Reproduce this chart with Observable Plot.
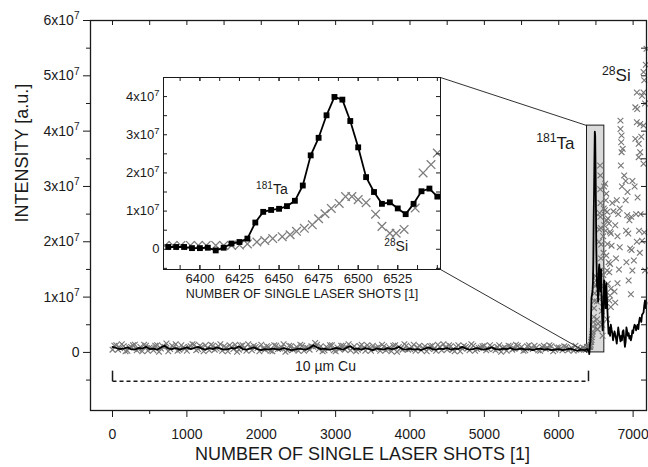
<!DOCTYPE html>
<html><head><meta charset="utf-8">
<script src="https://cdn.jsdelivr.net/npm/d3@7"></script>
<script src="https://cdn.jsdelivr.net/npm/@observablehq/plot@0.6"></script>
<style>
html,body{margin:0;padding:0;background:#fff;}
#wrap{position:relative;width:648px;height:467px;overflow:hidden;}
#wrap svg{position:absolute;left:0;top:0;overflow:visible;}
</style></head><body><div id="wrap"></div>
<script>
// ---------- data (intensities in units of 1e7) ----------
const xTickLabels = [0, 1000, 2000, 3000, 4000, 5000, 6000, 7000];
const yTickLabels = [0, 1, 2, 3, 4, 5, 6];
const insetXTicks = [6400, 6425, 6450, 6475, 6500, 6525];
const insetYTicks = [0, 1, 2, 3, 4];

// baseline 0..6350 (every 50 shots) – 181Ta
const taBase = [
0.10,0.08,0.06,0.07,0.09,0.06,0.05,0.08,0.07,0.10,
0.06,0.07,0.05,0.09,0.12,0.07,0.06,0.08,0.05,0.07,
0.09,0.06,0.08,0.10,0.07,0.05,0.08,0.06,0.09,0.07,
0.05,0.06,0.08,0.07,0.11,0.06,0.05,0.07,0.09,0.06,
0.04,0.06,0.05,0.07,0.06,0.05,0.08,0.06,0.04,0.05,
0.07,0.06,0.05,0.08,0.13,0.09,0.06,0.07,0.05,0.06,
0.08,0.07,0.05,0.09,0.11,0.06,0.07,0.05,0.08,0.06,
0.04,0.07,0.06,0.05,0.08,0.06,0.07,0.10,0.06,0.05,
0.07,0.05,0.06,0.04,0.07,0.09,0.06,0.05,0.07,0.06,
0.08,0.05,0.07,0.06,0.10,0.07,0.05,0.06,0.08,0.06,
0.05,0.07,0.09,0.06,0.05,0.07,0.06,0.08,0.05,0.06,
0.07,0.05,0.06,0.04,0.06,0.07,0.05,0.06,0.04,0.05,
0.06,0.04,0.05,0.07,0.05,0.03,0.05,0.04];
// baseline 25..6375 (every 50 shots) – 28Si
const siBase = [
0.12,0.05,0.15,0.02,0.09,0.13,0.04,0.10,0.14,0.03,
0.08,0.12,0.01,0.11,0.16,0.06,0.09,0.03,0.13,0.07,
0.10,0.15,0.04,0.12,0.02,0.08,0.14,0.05,0.11,0.03,
0.09,0.13,0.06,0.01,0.12,0.08,0.15,0.04,0.10,0.02,
0.07,0.11,0.03,0.13,0.06,0.09,0.01,0.12,0.05,0.10,
0.14,0.03,0.08,0.11,0.17,0.06,0.02,0.10,0.13,0.04,
0.09,0.12,0.05,0.15,0.07,0.02,0.11,0.08,0.13,0.03,
0.06,0.10,0.14,0.04,0.09,0.12,0.01,0.07,0.15,0.05,
0.10,0.03,0.12,0.08,0.02,0.11,0.06,0.14,0.04,0.09,
0.13,0.05,0.10,0.02,0.12,0.07,0.15,0.03,0.08,0.11,
0.04,0.13,0.06,0.10,0.01,0.09,0.12,0.05,0.14,0.07,
0.03,0.11,0.08,0.12,0.04,0.10,0.06,0.13,0.02,0.09,
0.07,0.11,0.04,0.08,0.12,0.05,0.09,0.06];
// baseline 0..6350 (every 50 shots) – 28Si, second readout
const siBase2 = [
0.05,0.13,0.08,0.11,0.03,0.10,0.14,0.06,0.02,0.12,
0.09,0.04,0.13,0.07,0.10,0.02,0.12,0.15,0.05,0.09,
0.03,0.11,0.14,0.06,0.10,0.13,0.04,0.12,0.07,0.15,
0.11,0.02,0.10,0.14,0.05,0.13,0.03,0.09,0.12,0.08,
0.14,0.05,0.10,0.02,0.12,0.07,0.15,0.04,0.11,0.06,
0.03,0.12,0.09,0.05,0.10,0.14,0.11,0.04,0.07,0.13,
0.02,0.06,0.12,0.09,0.04,0.11,0.05,0.14,0.03,0.10,
0.12,0.08,0.03,0.11,0.06,0.02,0.13,0.10,0.05,0.12,
0.06,0.14,0.09,0.04,0.11,0.07,0.12,0.03,0.10,0.15,
0.05,0.11,0.02,0.13,0.07,0.10,0.04,0.12,0.06,0.09,
0.12,0.06,0.10,0.04,0.13,0.08,0.03,0.11,0.07,0.12,
0.10,0.04,0.13,0.06,0.09,0.03,0.12,0.08,0.11,0.05,
0.09,0.04,0.10,0.06,0.03,0.08,0.05,0.07];

// zoomed region 6380..6550 – 181Ta
const taInsetX = [6380,6385,6390,6395,6400,6405,6410,6415,6420,6425,6430,6435,6440,6445,6450,6455,6460,6465,6470,6475,6480,6485,6490,6495,6500,6505,6510,6515,6520,6525,6530,6535,6540,6545,6550];
const taInsetY = [0.06,0.06,0.06,0.03,0.03,0.04,-0.03,0.04,0.15,0.19,0.28,0.70,0.98,1.03,1.06,1.13,1.27,1.67,2.46,2.92,3.51,3.99,3.92,3.36,2.67,1.89,1.50,1.19,1.23,1.07,0.92,1.19,1.52,1.59,1.38];
// zoomed region – 28Si
const siInsetX = [6378,6383,6388,6394,6399,6404,6410,6415,6420,6425,6430,6436,6441,6446,6452,6457,6461,6466,6471,6475,6479,6483,6488,6492,6496,6500,6505,6511,6515,6520,6524,6529,6536,6541,6546,6550];
const siInsetY = [0.10,0.10,0.10,0.10,0.10,0.10,0.10,0.10,0.10,0.11,0.14,0.19,0.23,0.28,0.33,0.38,0.47,0.55,0.64,0.80,0.93,1.07,1.20,1.38,1.38,1.30,1.22,0.92,0.60,0.42,0.42,0.52,1.08,2.00,2.22,2.52];

// after the layer 6560..7180 – 181Ta
const taTailX = [6560,6570,6580,6590,6600,6610,6620,6630,6640,6650,6660,6670,6680,6690,6700,6710,6720,6730,6740,6750,6760,6770,6780,6790,6800,6810,6820,6830,6840,6850,6860,6870,6880,6890,6900,6910,6920,6930,6940,6950,6960,6970,6980,6990,7000,7010,7020,7030,7040,7050,7060,7070,7080,7090,7100,7110,7120,7130,7140,7150,7160,7170,7180];
const taTailY = [
1.10,1.50,0.80,0.40,0.70,1.30,1.10,0.80,1.25,0.90,
0.60,0.34,0.45,0.30,0.50,0.42,0.35,0.22,0.30,0.38,
0.32,0.25,0.16,0.30,0.45,0.35,0.28,0.20,0.30,0.22,
0.38,0.40,0.25,0.10,0.20,0.45,0.38,0.30,0.35,0.25,
0.30,0.22,0.28,0.40,0.35,0.45,0.50,0.48,0.40,0.45,
0.50,0.42,0.55,0.63,0.60,0.55,0.68,0.70,0.72,0.85,
0.94,0.80,0.90];
// after the layer – 28Si scatter
const siTailX = [6556,6560,6558,6562,6560,6565,6570,6568,6575,6572,6580,6578,6585,6590,6595,6600,6598,6605,6603,6610,6612,
6625,6640,6632,6620,6650,6660,6645,6675,6630,6690,6700,6655,6710,6640,6670,6690,6650,6680,6660,6700,6690,6680,6700,6650,6720,6735,
6830,6830,6845,6840,6860,6845,6835,6880,6900,6850,6820,6780,6800,6760,6790,6820,6770,6810,6790,6750,6760,
6900,6920,6950,6975,6905,6935,6960,6980,6910,6990,6940,6970,6925,6990,
7180,7140,7150,7050,7140,7120,7055,7030,7050,7095,7140,7030,7075,7095,7075,7140,7170,7160,7110,7020,7060,7100,7040,7150,7080,7120,7010,7160,7090,7050];
const siTailY = [3.38,3.20,2.95,2.70,2.45,2.25,1.95,1.70,1.50,1.20,1.00,0.75,0.50,0.30,0.90,1.40,2.10,2.60,1.80,3.00,2.30,
3.05,2.87,2.75,2.57,2.54,2.42,2.39,2.33,2.20,2.18,2.15,1.96,1.93,1.75,1.63,1.60,1.48,1.45,1.24,1.15,1.03,0.94,0.82,0.60,2.70,2.55,
4.19,4.04,3.92,3.80,3.68,3.62,3.38,3.20,3.10,3.00,2.60,2.75,2.50,2.30,2.10,1.90,1.70,1.50,1.25,1.10,0.90,
2.75,2.48,2.39,2.45,2.20,2.15,1.88,1.85,1.63,1.48,1.30,1.05,2.90,3.10,
5.49,5.07,4.92,4.70,4.70,4.64,4.40,4.43,4.16,4.13,4.10,3.86,3.77,3.62,3.53,3.41,5.20,4.50,3.90,3.00,2.80,2.50,2.50,2.17,2.20,2.02,1.66,1.48,1.80,2.00];

// ---------- assembled tables ----------
const E7 = 1e7;
const baseX = d3.range(0, 6400, 50);
const taMain = [
  ...baseX.map((x, i) => ({x, y: taBase[i] * E7})),
  ...taInsetX.map((x, i) => ({x, y: taInsetY[i] * E7})),
  ...taTailX.map((x, i) => ({x, y: taTailY[i] * E7}))];
const siMain = [
  ...baseX.map((x, i) => ({x: x + 25, y: siBase[i] * E7})),
  ...baseX.map((x, i) => ({x, y: siBase2[i] * E7})),
  ...siInsetX.map((x, i) => ({x, y: siInsetY[i] * E7})),
  ...siTailX.map((x, i) => ({x, y: siTailY[i] * E7}))];
const taInset = taInsetX.map((x, i) => ({x, y: taInsetY[i] * E7}));
const siInset = siInsetX.map((x, i) => ({x, y: siInsetY[i] * E7}));

// annotation geometry (data units of the main chart)
const zoomRect = {x1: 6380, x2: 6613, y1: 0, y2: 4.1e7};
const insetBox = {x1: 685, x2: 4409, y1: 1.50e7, y2: 4.97e7};
const bracket = {x1: 0, x2: 6400, y: -0.52e7, yEnd: -0.33e7};

const FONT = "'Liberation Sans', Arial, Helvetica, sans-serif";
const INK = "#1a1a1a";

function supify(svg) {
  svg.querySelectorAll("text").forEach(t => {
    const targets = t.querySelector("tspan") ? [...t.querySelectorAll("tspan")] : [t];
    for (const el of targets) {
      const s = el.textContent;
      if (!s.includes("^")) continue;
      const parts = s.split(/(\^\d+)/).filter(p => p);
      el.textContent = "";
      let raised = false;
      for (const p of parts) {
        const ts = document.createElementNS("http://www.w3.org/2000/svg", "tspan");
        if (p[0] === "^") { ts.textContent = p.slice(1); ts.setAttribute("font-size", "72%"); ts.setAttribute("dy", "-0.55em"); raised = true; }
        else { ts.textContent = p; if (raised) { ts.setAttribute("dy", "0.396em"); raised = false; } }
        el.appendChild(ts);
      }
    }
  });
}
const yFmt = d => d === 0 ? "0" : `${Math.round(d / E7)}x10^7`;

// ---------- main chart ----------
const W = 648, H = 467, mL = 90, mR = 2, mT = 20, mB = 57;
const frameH = H - mT - mB, frameW = W - mL - mR;
const xMinor = d3.range(500, 7200, 1000);
const yMinor = [-0.5, 0.5, 1.5, 2.5, 3.5, 4.5, 5.5].map(v => v * E7);
const yMajor = yTickLabels.map(v => v * E7);

const main = Plot.plot({
  width: W, height: H, marginLeft: mL, marginRight: mR, marginTop: mT, marginBottom: mB,
  style: {fontFamily: FONT, fontSize: "14px", color: INK, background: "transparent"},
  x: {domain: [-296, 7180]},
  y: {domain: [-1.05e7, 6e7]},
  marks: [
    Plot.rect([zoomRect], {x1: "x1", x2: "x2", y1: "y1", y2: "y2", fill: "#dadada", stroke: INK, strokeWidth: 1}),
    Plot.dot(siMain, {x: "x", y: "y", symbol: "times", r: 2.7, stroke: "#767676", strokeWidth: 1.1}),
    Plot.line(taMain, {x: "x", y: "y", stroke: "#000", strokeWidth: 1.8}),
    Plot.link([
      {x1: insetBox.x2, y1: insetBox.y2, x2: zoomRect.x1, y2: zoomRect.y2},
      {x1: insetBox.x2, y1: insetBox.y1, x2: zoomRect.x1, y2: zoomRect.y1}],
      {x1: "x1", y1: "y1", x2: "x2", y2: "y2", stroke: INK, strokeWidth: 0.9}),
    Plot.link([bracket], {x1: "x1", x2: "x2", y1: "y", y2: "y", stroke: INK, strokeWidth: 1.5, strokeDasharray: "4,3"}),
    Plot.link([{x: bracket.x1}, {x: bracket.x2}], {x1: "x", x2: "x", y1: () => bracket.y, y2: () => bracket.yEnd, stroke: INK, strokeWidth: 1.5}),
    Plot.text([{x: 2863, y: -0.25e7, t: "10 µm Cu"}], {x: "x", y: "y", text: "t", fontSize: 14, fill: INK}),
    Plot.text([{x: 5954, y: 3.78e7, t: "^181Ta"}, {x: 6774, y: 5.0e7, t: "^28Si"}], {x: "x", y: "y", text: "t", fontSize: 17, fill: INK}),
    Plot.frame({stroke: INK, strokeWidth: 1.3}),
    Plot.axisX(xTickLabels, {tickSize: 7, tickPadding: 12, tickFormat: d => String(d), stroke: INK, fill: INK, label: null}),
    Plot.axisX(xMinor, {tickSize: 4, tickFormat: () => "", stroke: INK, label: null}),
    Plot.tickX([...xTickLabels, ...xMinor], {x: d => d, insetBottom: frameH - 5, stroke: INK}),
    Plot.axisY(yMajor, {tickSize: 7, tickPadding: 4, tickFormat: yFmt, stroke: INK, fill: INK, label: null}),
    Plot.axisY(yMinor, {tickSize: 4, tickFormat: () => "", stroke: INK, label: null}),
    Plot.tickY([...yMajor, ...yMinor], {y: d => d, insetLeft: frameW - 5, stroke: INK}),
    Plot.text(["NUMBER OF SINGLE LASER SHOTS [1]"], {frameAnchor: "bottom", dx: -6, dy: 49, fontSize: 18, fill: INK}),
    Plot.text(["INTENSITY [a.u.]"], {frameAnchor: "left", dx: -68, dy: 7, rotate: -90, fontSize: 18, fill: INK})
  ]
});
supify(main);
const wrap = document.getElementById("wrap");
wrap.appendChild(main);

// ---------- inset ----------
const sx = main.scale("x"), sy = main.scale("y");
const fx1 = Math.round(sx.apply(insetBox.x1)), fx2 = Math.round(sx.apply(insetBox.x2));
const fy1 = Math.round(sy.apply(insetBox.y2)), fy2 = Math.round(sy.apply(insetBox.y1));
const iL = 50, iR = 2, iT = 2, iB = 40;
const iFW = fx2 - fx1, iFH = fy2 - fy1;
const insetMinorX = d3.range(6387.5, 6552, 12.5);
const insetMinorY = [-0.5, 0.5, 1.5, 2.5, 3.5].map(v => v * E7);
const insetMajorY = insetYTicks.map(v => v * E7);
const allIX = [...insetXTicks, ...insetMinorX];
const allIY = [...insetMajorY, ...insetMinorY];

const inset = Plot.plot({
  width: iFW + iL + iR, height: iFH + iT + iB,
  marginLeft: iL, marginRight: iR, marginTop: iT, marginBottom: iB,
  style: {fontFamily: FONT, fontSize: "13px", color: INK, background: "transparent"},
  x: {domain: [6377, 6552]},
  y: {domain: [-0.53e7, 4.5e7]},
  marks: [
    Plot.frame({fill: "white"}),
    Plot.dot(siInset, {x: "x", y: "y", symbol: "times", r: 4.0, stroke: "#7d7d7d", strokeWidth: 1.3, clip: true}),
    Plot.line(taInset, {x: "x", y: "y", stroke: "#000", strokeWidth: 1.8, clip: true}),
    Plot.dot(taInset, {x: "x", y: "y", symbol: "square", r: 3.3, fill: "#000", clip: true}),
    Plot.text([{x: 6445.5, y: 1.56e7, t: "^181Ta"}, {x: 6524, y: 0.06e7, t: "^28Si"}], {x: "x", y: "y", text: "t", fontSize: 14, fill: INK}),
    Plot.frame({stroke: INK, strokeWidth: 1}),
    Plot.tickX(allIX, {x: d => d, insetTop: iFH - 4, stroke: INK}),
    Plot.tickX(allIX, {x: d => d, insetBottom: iFH - 4, stroke: INK}),
    Plot.tickY(allIY, {y: d => d, insetLeft: iFW - 4, stroke: INK}),
    Plot.tickY(allIY, {y: d => d, insetRight: iFW - 4, stroke: INK}),
    Plot.axisX(insetXTicks, {tickSize: 0, tickPadding: 4, tickFormat: d => String(d), fill: INK, label: null}),
    Plot.axisY(insetMajorY, {tickSize: 0, tickPadding: 4, tickFormat: yFmt, fill: INK, label: null}),
    Plot.text(["NUMBER OF SINGLE LASER SHOTS [1]"], {frameAnchor: "bottom", dy: 28, fontSize: 12.5, fill: INK})
  ]
});
supify(inset);
inset.style.left = (fx1 - iL) + "px";
inset.style.top = (fy1 - iT) + "px";
wrap.appendChild(inset);
</script></body></html>
